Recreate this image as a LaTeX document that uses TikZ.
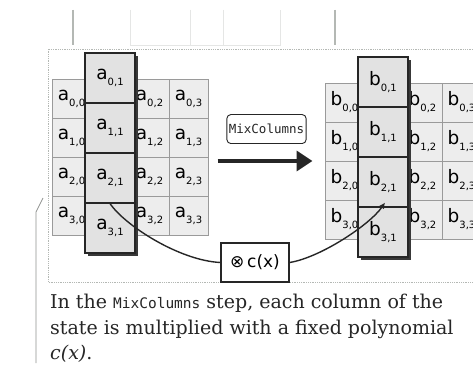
\documentclass[tikz,border=0pt]{standalone}
\usepackage{fontspec}
\setmainfont{DejaVu Serif}
\setsansfont{DejaVu Sans}
\setmonofont{DejaVu Sans Mono}
\usepackage{tikz}
\usetikzlibrary{positioning,arrows.meta,shadows,fit,calc}
\definecolor{aesink}{HTML}{262626}
\definecolor{aescell}{HTML}{EDEDED}
\definecolor{aesgrid}{HTML}{9A9A9A}
\definecolor{aeshl}{HTML}{E2E2E2}
\definecolor{aesshadow}{HTML}{383838}
\definecolor{aesscan}{HTML}{B4B8B4}
\newcommand{\ent}[2]{#1\raisebox{-6pt}{\fontsize{10}{10}\selectfont #2}}

\begin{document}
\begin{tikzpicture}[x=1pt,y=-1pt,
  cell/.style={draw=aesgrid,fill=aescell,line width=0.6pt,minimum width=39pt,minimum height=39pt,inner sep=0pt,font=\sffamily\fontsize{18.5}{18.5}\selectfont},
  hcell/.style={cell,draw=aesink,fill=aeshl,line width=1.1pt,minimum width=50pt,minimum height=50pt,
    drop shadow={shadow xshift=3pt,shadow yshift=-3pt,opacity=1,fill=aesshadow}},
  lbl/.style={draw=aesink,fill=white,rounded corners=4pt,line width=0.9pt,inner xsep=2pt,minimum height=29pt,font=\ttfamily\fontsize{12.5}{12.5}\selectfont},
  op/.style={draw=aesink,fill=white,line width=1.3pt,minimum width=68pt,minimum height=39pt,inner sep=0pt,font=\sffamily\fontsize{17}{17}\selectfont},
  bigarr/.style={-{Triangle[length=16pt,width=20pt]},aesink,line width=3.5pt},
  link/.style={aesink,line width=1.4pt},
  frame/.style={aesscan,densely dotted,line width=0.8pt},
  scan/.style={aesscan,line width=1.4pt},
  capt/.style={align=left,inner sep=0pt,text=aesink,font=\fontsize{19}{25.5}\selectfont}
]
\fill[white] (0,0) rectangle (473,366);
\useasboundingbox (0,0) rectangle (473,366);

% scanned page edges
\draw[scan] (73,10) -- (73,45);
\draw[scan] (335,10) -- (335,45);
\draw[aesscan!35,line width=0.6pt] (130,10) -- (130,45) -- (280,45) -- (280,10);
\draw[aesscan!35,line width=0.6pt] (190,10) -- (190,45);
\draw[aesscan!35,line width=0.6pt] (223,10) -- (223,45);
\draw[frame] (473,49) -- (48,49) -- (48,282) -- (473,282);
\draw[aesscan!80!black,line width=0.8pt] (43,198) -- (36,212) -- (36,363);

% state before
\foreach \r in {0,...,3}
  \foreach \c in {0,2,3}
    \node[cell] (a\r\c) at ({71.5+39*\c},{98.5+39*\r}) {\ent{a}{\r,\c}};
\foreach \r in {0,...,3}
  \node[hcell] (a\r1) at (110,{78+50*\r}) {\ent{a}{\r,1}};

% state after
\foreach \r in {0,...,3}
  \foreach \c in {0,2,3}
    \node[cell] (b\r\c) at ({344.5+39*\c},{102.5+39*\r}) {\ent{b}{\r,\c}};
\foreach \r in {0,...,3}
  \node[hcell] (b\r1) at (383,{82+50*\r}) {\ent{b}{\r,1}};

\node[fit=(a00)(a33),inner sep=0pt] (lgrid) {};
\node[fit=(b00)(b33),inner sep=0pt] (rgrid) {};

\draw[bigarr,shorten <=9pt,shorten >=12pt] (lgrid.east |- rgrid.west) -- (rgrid.west)
  node[lbl,midway,above=17pt] (mix) {MixColumns};

\node[op] (cx) at (255,262.5) {⊗\,c(x)};
\draw[link] (a21.south) .. controls +(15,22) and +(-41,-2) .. (cx.west);
\draw[link,-{Latex[length=6pt,width=6pt]}] (cx.east) .. controls +(31,-5) and +(-15,22) .. ($(b21.south)+(2,-5)$);

\node[capt,anchor=north west] (caption) at (50,294)
  {In the {\ttfamily\fontsize{14.5}{14.5}\selectfont MixColumns} step, each column of the\\
   state is multiplied with a fixed polynomial\\
   \textit{c(x)}.};
\end{tikzpicture}
\end{document}
